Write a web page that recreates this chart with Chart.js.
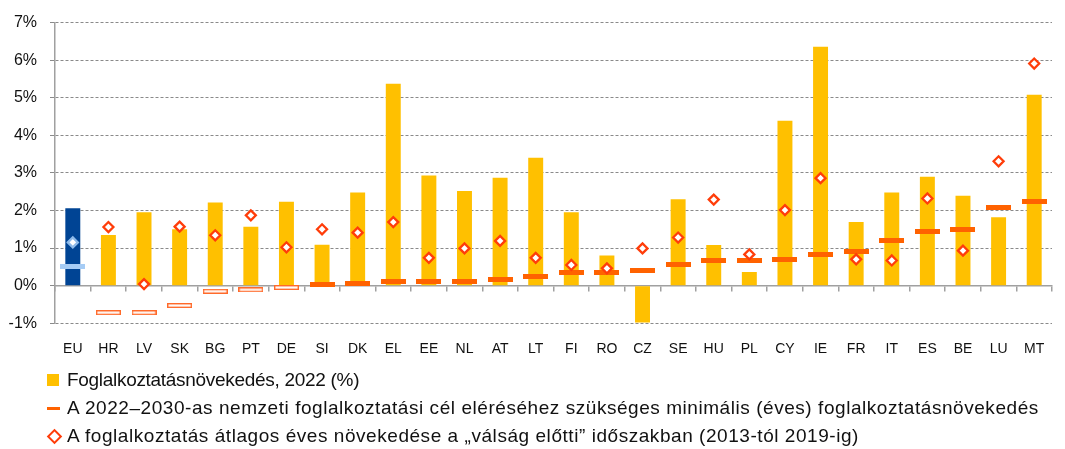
<!DOCTYPE html>
<html>
<head>
<meta charset="utf-8">
<script src="https://cdn.jsdelivr.net/npm/chart.js@4"></script>
<style>
  body { margin: 0; background: #fff; font-family: "Liberation Sans", Arial, sans-serif; }
  #wrap { position: relative; width: 1065px; height: 380px; }
  #legend { position: relative; margin-top: -14px; padding-left: 47px; font-size: 19px; color: #111; }
  #legend .row { height: 28px; line-height: 28px; white-space: nowrap; position: relative; padding-left: 20px; letter-spacing: 0.55px; }
  #legend .row.first { letter-spacing: -0.3px; }
  #legend .mk { position: absolute; left: 0; top: 50%; }
  .sq { width: 12px; height: 12px; margin-top: -6px; background: #FFC000; }
  .dash { width: 13px; height: 3px; margin-top: -1px; background: #FF6200; }
  .dia { width: 7px; height: 7px; margin-top: -5px; margin-left: 2px; border: 2px solid #FF3D0A; background: #fff; transform: rotate(45deg); }
</style>
</head>
<body>
<div id="wrap"><canvas id="myChart"></canvas></div>
<div id="legend">
  <div class="row first"><span class="mk sq"></span>Foglalkoztatásnövekedés, 2022 (%)</div>
  <div class="row"><span class="mk dash"></span>A 2022–2030-as nemzeti foglalkoztatási cél eléréséhez szükséges minimális (éves) foglalkoztatásnövekedés</div>
  <div class="row"><span class="mk dia"></span>A foglalkoztatás átlagos éves növekedése a „válság előtti” időszakban (2013-tól 2019-ig)</div>
</div>
<script>
var labels = ['EU','HR','LV','SK','BG','PT','DE','SI','DK','EL','EE','NL','AT','LT','FI','RO','CZ','SE','HU','PL','CY','IE','FR','IT','ES','BE','LU','MT'];
// foglalkoztatásnövekedés 2022
var growth2022 = [2.06,1.35,1.95,1.50,2.21,1.57,2.23,1.09,2.48,5.37,2.93,2.52,2.87,3.40,1.95,0.80,-0.98,2.30,1.08,0.36,4.39,6.36,1.69,2.48,2.90,2.39,1.82,5.08];
// minimum needed for the 2030 target
var minRequired = [0.52,-0.72,-0.72,-0.53,-0.15,-0.11,-0.05,0.04,0.05,0.10,0.10,0.12,0.15,0.23,0.36,0.36,0.39,0.57,0.68,0.68,0.70,0.84,0.91,1.20,1.44,1.50,2.08,2.23];
// 2013-2019 average
var preCrisis = [1.15,1.56,0.04,1.57,1.34,1.87,1.02,1.50,1.41,1.69,0.74,0.99,1.19,0.74,0.55,0.46,0.99,1.28,2.29,0.83,2.01,2.86,0.70,0.67,2.32,0.93,3.31,5.91];
var yTicks = [-1,0,1,2,3,4,5,6,7];

function makeDash(fill, stroke){
    var c = document.createElement('canvas');
    c.width = 25; c.height = 5;
    var g = c.getContext('2d');
    g.fillStyle = fill;
    g.fillRect(0, 0, 25, 5);
    if(stroke){
        g.strokeStyle = stroke;
        g.lineWidth = 1.4;
        g.strokeRect(0.7, 0.7, 23.6, 3.6);
    }
    return c;
}
var dashFull = makeDash('#FF6200');
var dashEmpty = makeDash('#ffffff', '#FF6A2A');
var dashEU = makeDash('#A6CCF5');

var ctx = document.getElementById('myChart').getContext('2d');
var myChart = new Chart(ctx, {
    type: 'bar',
    data: {
        labels: labels,
        datasets: [{
            type: 'line',
            label: 'preCrisis',
            data: preCrisis,
            showLine: false,
            pointStyle: 'rectRot',
            pointRadius: 5,
            pointBorderWidth: 2.3,
            pointBackgroundColor: '#ffffff',
            pointBorderColor: function(c){ return c.dataIndex === 0 ? '#8DBAEA' : '#FF3D0A'; },
            order: 1
        }, {
            type: 'line',
            label: 'minRequired',
            data: minRequired,
            showLine: false,
            pointRadius: 12,
            pointStyle: function(c){
                if(c.dataIndex === 0) return dashEU;
                return c.raw < 0 ? dashEmpty : dashFull;
            },
            order: 2
        }, {
            label: 'growth2022',
            data: growth2022,
            backgroundColor: function(c){ return c.dataIndex === 0 ? '#004494' : '#FFC000'; },
            barPercentage: 0.42,
            categoryPercentage: 1,
            order: 3
        }]
    },
    options: {
        animation: false,
        responsive: true,
        maintainAspectRatio: false,
        events: [],
        layout: { padding: { top: 20, right: 1, bottom: 4, left: 0 } },
        plugins: { legend: { display: false }, tooltip: { enabled: false } },
        scales: {
            x: {
                position: { y: 0 },
                offset: true,
                afterFit: function(s){ s.height = 0; },
                ticks: { display: false },
                grid: { offset: true, drawOnChartArea: false, drawTicks: true, tickLength: 5, color: '#a0a0a0', lineWidth: 1.5 },
                border: { display: true, color: '#a0a0a0', width: 1.5 }
            },
            x2: {
                type: 'category',
                position: 'bottom',
                offset: true,
                grid: { display: false, drawTicks: false },
                border: { display: false },
                ticks: { padding: 18, color: '#111', font: { family: 'Liberation Sans', size: 14 }, maxRotation: 0, autoSkip: false }
            },
            y: {
                min: -1,
                max: 7,
                afterFit: function(s){ s.width = 55; },
                afterBuildTicks: function(s){ s.ticks = yTicks.map(function(v){ return {value: v}; }); },
                ticks: {
                    padding: 13,
                    color: '#111',
                    font: { family: 'Liberation Sans', size: 16 },
                    callback: function(v){ return v + '%'; }
                },
                grid: { color: '#8a8a8a', lineWidth: 1, tickLength: 5, tickColor: '#8a8a8a' },
                border: { display: true, color: '#a0a0a0', width: 1.5, dash: [3, 2] }
            }
        }
    }
});
</script>
</body>
</html>
